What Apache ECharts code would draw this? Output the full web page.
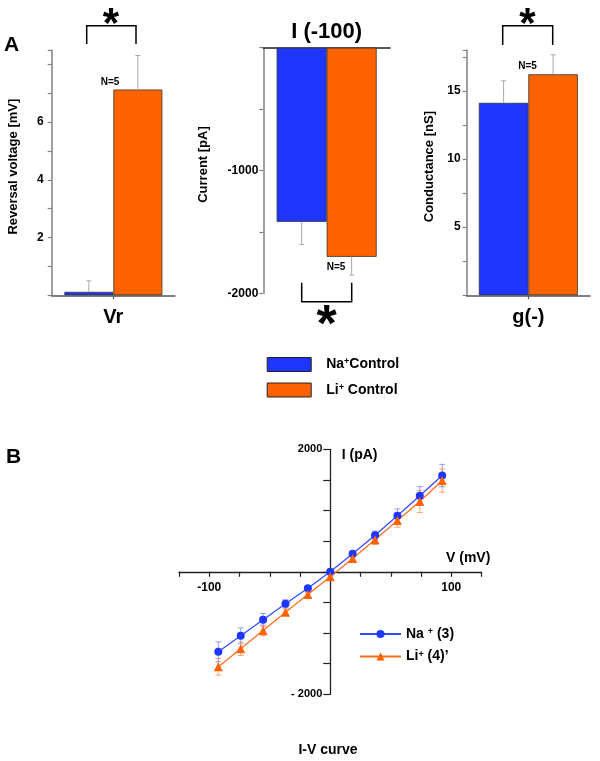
<!DOCTYPE html>
<html><head><meta charset="utf-8">
<script src="https://cdn.jsdelivr.net/npm/echarts@6/dist/echarts.min.js"></script>
<style>html,body{margin:0;padding:0;background:#fff}#c{width:600px;height:761px}</style>
</head><body><div id="c"></div>
<script>
// ---------- data ----------
const vrCategory = ['Vr'];
const vrNa = [0.12];      const vrNaErr = [0.38];
const vrLi = [7.13];      const vrLiErr = [1.18];
const vrTickLabels = [2, 4, 6];

const currCategory = ['I (-100)'];
const currNa = [-1418];   const currNaErr = [184];
const currLi = [-1703];   const currLiErr = [149];
const currTickLabels = [-1000, -2000];

const condCategory = ['g(-)'];
const condNa = [14.12];   const condNaErr = [1.62];
const condLi = [16.22];   const condLiErr = [1.43];
const condTickLabels = [5, 10, 15];

const ivVoltage = [-92.5, -74, -55.5, -37, -18.5, 0, 18.5, 37, 55.5, 74, 92.5];
const ivNa    = [-1306, -1045, -784, -522, -267, 0, 294, 598, 914, 1241, 1572];
const ivNaErr = [163, 130, 103, 65, 25, 0, 25, 68, 114, 150, 182];
const ivLi    = [-1551, -1257, -958, -659, -371, -82, 217, 522, 837, 1148, 1490];
const ivLiErr = [136, 109, 87, 54, 30, 15, 30, 76, 109, 180, 190];
const ivXTickLabels = [-100, 100];
const ivYTickLabels = {'2000': '2000', '-2000': '- 2000'};

const NA_BAR = 'Na+Control', LI_BAR = 'Li+ Control';
const NA_IV = 'Na+ (3)', LI_IV = "Li+ (4)'";

// ---------- styles ----------
const FONT = 'Liberation Sans, Arial, Helvetica, sans-serif';
const BLUE = '#1e36ff', ORANGE = '#ff6200';
const chart = echarts.init(document.getElementById('c'), null, {renderer: 'canvas'});

const lbl = (size, extra) => Object.assign({fontFamily: FONT, fontWeight: 'bold', fontSize: size, color: '#000'}, extra || {});

function barErr(idx, vals, errs, offset, dir) {
  return {
    type: 'custom', xAxisIndex: idx, yAxisIndex: idx, silent: true, z: 3,
    data: vals.map((v, i) => [i, v, errs[i]]),
    renderItem: (p, api) => {
      const c = api.value(0), v = api.value(1), e = api.value(2);
      const p0 = api.coord([c, v]), p1 = api.coord([c, v + dir * e]);
      const x = p0[0] + offset;
      const st = {stroke: '#a8a8a8', lineWidth: 1};
      return {type: 'group', children: [
        {type: 'line', shape: {x1: x, y1: p0[1], x2: x, y2: p1[1]}, style: st},
        {type: 'line', shape: {x1: x - 2.5, y1: p1[1], x2: x + 2.5, y2: p1[1]}, style: st}
      ]};
    }
  };
}
function ivErr(xs, ys, es, color) {
  return {
    type: 'custom', xAxisIndex: 3, yAxisIndex: 3, silent: true, z: 1,
    data: xs.map((x, i) => [x, ys[i], es[i]]),
    renderItem: (p, api) => {
      const x = api.value(0), y = api.value(1), e = api.value(2);
      const a = api.coord([x, y + e]), b = api.coord([x, y - e]);
      const st = {stroke: color, lineWidth: 1};
      return {type: 'group', children: [
        {type: 'line', shape: {x1: a[0], y1: a[1], x2: b[0], y2: b[1]}, style: st},
        {type: 'line', shape: {x1: a[0] - 3, y1: a[1], x2: a[0] + 3, y2: a[1]}, style: st},
        {type: 'line', shape: {x1: b[0] - 3, y1: b[1], x2: b[0] + 3, y2: b[1]}, style: st}
      ]};
    }
  };
}
function catAxis(idx, cats, pos, showTick, labelSize, margin, lineColor) {
  return {
    type: 'category', gridIndex: idx, data: cats, position: pos,
    axisLine: {lineStyle: {color: lineColor, width: 1.5}},
    axisTick: {show: showTick, alignWithLabel: true, length: 4, lineStyle: {color: lineColor, width: 1.2}},
    axisLabel: lbl(labelSize, {margin: margin}),
    splitLine: {show: false}
  };
}
function valAxis(idx, min, max, interval, shown, name, nameGap, margin) {
  return {
    type: 'value', gridIndex: idx, min: min, max: max, interval: interval,
    name: name, nameLocation: 'middle', nameRotate: 90, nameGap: nameGap,
    nameTextStyle: lbl(13, {padding: [0, 0, 0, 12]}),
    axisLine: {show: true, onZero: false, lineStyle: {color: '#808080', width: 1.5}},
    axisTick: {show: true, length: 4, lineStyle: {color: '#808080', width: 1.2}},
    axisLabel: lbl(12, {margin: margin, formatter: v => shown.indexOf(v) >= 0 ? String(v) : ''}),
    splitLine: {show: false}
  };
}
const barStyle = c => ({color: c, borderColor: '#333', borderWidth: 0.8});

const legendRich = {
  b: {fontFamily: FONT, fontWeight: 'bold', fontSize: 14, color: '#000'},
  s: {fontFamily: FONT, fontWeight: 'bold', fontSize: 9, color: '#000', verticalAlign: 'top'}
};
const legendB = {
  b: {fontFamily: FONT, fontWeight: 'bold', fontSize: 14, color: '#000'},
  s: {fontFamily: FONT, fontWeight: 'bold', fontSize: 9, color: '#000', verticalAlign: 'top'}
};
const legendText = {};
legendText[NA_BAR] = '{b|Na}{s|+}{b|Control}';
legendText[LI_BAR] = '{b|Li}{s|+}{b| Control}';
legendText[NA_IV] = '{b|Na }{s|+}{b| (3)}';
legendText[LI_IV] = '{b|Li}{s|+}{b| (4)\u2019}';

const option = {
  animation: false,
  backgroundColor: '#fff',
  grid: [
    {left: 51.7, top: 50, width: 123.3, height: 245.3},
    {left: 263.3, top: 47.7, width: 126.7, height: 245.6},
    {left: 466.7, top: 50, width: 123.3, height: 245.3},
    {left: 179, top: 449.3, width: 302.5, height: 245}
  ],
  xAxis: [
    catAxis(0, vrCategory, 'bottom', true, 20, 12, '#555'),
    catAxis(1, currCategory, 'top', false, 22, 5, '#222'),
    catAxis(2, condCategory, 'bottom', true, 20, 12, '#555'),
    {
      type: 'value', gridIndex: 3, min: -125, max: 125, interval: 25,
      position: 'bottom', offset: -122.5,
      axisLine: {onZero: false, lineStyle: {color: '#222', width: 1.3}},
      axisTick: {length: 5, lineStyle: {color: '#222', width: 1.2}},
      axisLabel: lbl(12, {margin: 10, formatter: v => ivXTickLabels.indexOf(v) >= 0 ? String(v) : ''}),
      splitLine: {show: false}
    }
  ],
  yAxis: [
    valAxis(0, 0, 8.5, 1, vrTickLabels, 'Reversal voltage [mV]', 31.7, 8),
    valAxis(1, -2000, 0, 500, currTickLabels, 'Current [pA]', 53, 5),
    valAxis(2, 0, 18, 2.5, condTickLabels, 'Conductance [nS]', 30.7, 6),
    {
      type: 'value', gridIndex: 3, min: -2000, max: 2000, interval: 500,
      position: 'left', offset: -151.25,
      axisLine: {onZero: false, lineStyle: {color: '#222', width: 1.3}},
      axisTick: {length: 7, lineStyle: {color: '#222', width: 1.2}},
      axisLabel: lbl(11, {margin: 8, formatter: v => ivYTickLabels[String(v)] || ''}),
      splitLine: {show: false}
    }
  ],
  legend: [
    {
      data: [NA_BAR, LI_BAR], orient: 'vertical', left: 266.7, top: 357, padding: 0,
      itemWidth: 44, itemHeight: 14, itemGap: 10.5, icon: 'rect',
      itemStyle: {borderColor: '#222', borderWidth: 1},
      formatter: n => legendText[n],
      textStyle: {rich: legendRich, padding: [0, 0, 0, 10]},
      selectedMode: false
    },
    {
      data: [NA_IV, LI_IV], orient: 'vertical', left: 359, top: 627, padding: 0,
      itemWidth: 41, itemHeight: 10, itemGap: 8.6,
      formatter: n => legendText[n],
      textStyle: {rich: legendB},
      selectedMode: false
    }
  ],
  series: [
    {name: NA_BAR, type: 'bar', xAxisIndex: 0, yAxisIndex: 0, data: vrNa, barWidth: 49, barGap: '0%', itemStyle: barStyle(BLUE)},
    {name: LI_BAR, type: 'bar', xAxisIndex: 0, yAxisIndex: 0, data: vrLi, barWidth: 49, barGap: '0%', itemStyle: barStyle(ORANGE)},
    barErr(0, vrNa, vrNaErr, -24.5, 1),
    barErr(0, vrLi, vrLiErr, 24.5, 1),

    {name: NA_BAR, type: 'bar', xAxisIndex: 1, yAxisIndex: 1, data: currNa, barWidth: 50, barGap: '0%', itemStyle: barStyle(BLUE)},
    {name: LI_BAR, type: 'bar', xAxisIndex: 1, yAxisIndex: 1, data: currLi, barWidth: 50, barGap: '0%', itemStyle: barStyle(ORANGE)},
    barErr(1, currNa, currNaErr, -25, -1),
    barErr(1, currLi, currLiErr, 25, -1),

    {name: NA_BAR, type: 'bar', xAxisIndex: 2, yAxisIndex: 2, data: condNa, barWidth: 49.5, barGap: '0%', itemStyle: barStyle(BLUE)},
    {name: LI_BAR, type: 'bar', xAxisIndex: 2, yAxisIndex: 2, data: condLi, barWidth: 49.5, barGap: '0%', itemStyle: barStyle(ORANGE)},
    barErr(2, condNa, condNaErr, -24.75, 1),
    barErr(2, condLi, condLiErr, 24.75, 1),

    ivErr(ivVoltage, ivNa, ivNaErr, 'rgba(60,90,255,0.55)'),
    ivErr(ivVoltage, ivLi, ivLiErr, 'rgba(255,110,30,0.6)'),
    {name: NA_IV, type: 'line', xAxisIndex: 3, yAxisIndex: 3, z: 3,
     data: ivVoltage.map((v, i) => [v, ivNa[i]]),
     symbol: 'circle', symbolSize: 8, showAllSymbol: true,
     itemStyle: {color: BLUE}, lineStyle: {color: '#3048ff', width: 1.2}},
    {name: LI_IV, type: 'line', xAxisIndex: 3, yAxisIndex: 3, z: 3,
     data: ivVoltage.map((v, i) => [v, ivLi[i]]),
     symbol: 'triangle', symbolSize: 9, showAllSymbol: true,
     itemStyle: {color: ORANGE}, lineStyle: {color: '#ff6a1a', width: 1.2}}
  ],
  graphic: [
    {type: 'text', x: 4, y: 45.5, style: {text: 'A', font: 'bold 21px ' + FONT, fill: '#000', verticalAlign: 'middle'}},
    {type: 'text', x: 6, y: 457.5, style: {text: 'B', font: 'bold 21px ' + FONT, fill: '#000', verticalAlign: 'middle'}},
    // significance brackets
    {type: 'polyline', shape: {points: [[86.7, 44], [86.7, 25.7], [136, 25.7], [136, 44]]}, style: {stroke: '#000', lineWidth: 1.5, fill: null}},
    {type: 'polyline', shape: {points: [[301.7, 282.7], [301.7, 301.7], [351.7, 301.7], [351.7, 282.7]]}, style: {stroke: '#000', lineWidth: 1.5, fill: null}},
    {type: 'polyline', shape: {points: [[502.7, 45], [502.7, 25.7], [552.7, 25.7], [552.7, 45]]}, style: {stroke: '#000', lineWidth: 1.5, fill: null}},
    {type: 'text', x: 111, y: 25.3, style: {text: '*', font: 'bold 42px ' + FONT, fill: '#000', align: 'center', verticalAlign: 'middle'}},
    {type: 'text', x: 527.5, y: 25.3, style: {text: '*', font: 'bold 42px ' + FONT, fill: '#000', align: 'center', verticalAlign: 'middle'}},
    {type: 'text', x: 326.7, y: 327, style: {text: '*', font: 'bold 52px ' + FONT, fill: '#000', align: 'center', verticalAlign: 'middle'}},
    // N labels
    {type: 'text', x: 110, y: 82.7, style: {text: 'N=5', font: 'bold 10px ' + FONT, fill: '#000', align: 'center', verticalAlign: 'middle'}},
    {type: 'text', x: 336, y: 267, style: {text: 'N=5', font: 'bold 10px ' + FONT, fill: '#000', align: 'center', verticalAlign: 'middle'}},
    {type: 'text', x: 527.5, y: 66.7, style: {text: 'N=5', font: 'bold 10px ' + FONT, fill: '#000', align: 'center', verticalAlign: 'middle'}},
    // panel B texts
    {type: 'text', x: 341.7, y: 455, style: {text: 'I (pA)', font: 'bold 14px ' + FONT, fill: '#000', verticalAlign: 'middle'}},
    {type: 'text', x: 446, y: 558.3, style: {text: 'V (mV)', font: 'bold 14px ' + FONT, fill: '#000', verticalAlign: 'middle'}},
    {type: 'text', x: 328, y: 750, style: {text: 'I-V curve', font: 'bold 14px ' + FONT, fill: '#000', align: 'center', verticalAlign: 'middle'}}
  ]
};
chart.setOption(option);
</script>
</body></html>
